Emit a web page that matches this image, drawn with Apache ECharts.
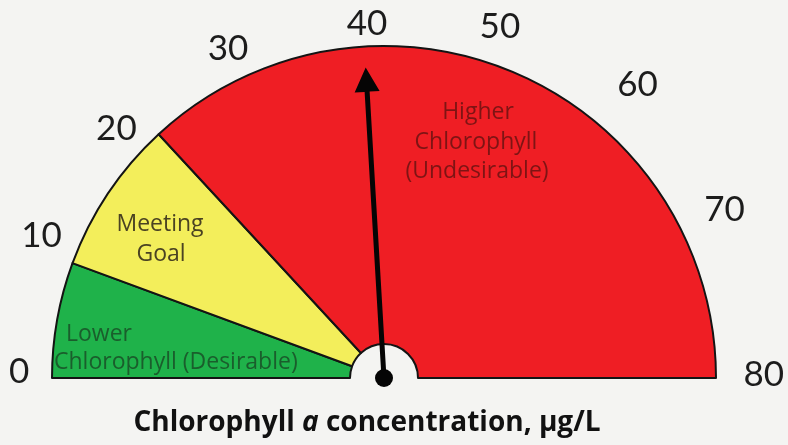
<!DOCTYPE html>
<html>
<head>
<meta charset="utf-8">
<script src="https://cdn.jsdelivr.net/npm/echarts@6/dist/echarts.min.js"></script>
<style>
  html, body { margin: 0; padding: 0; background: #f4f4f2; }
  #chart { width: 788px; height: 445px; }
</style>
</head>
<body>
<div id="chart"></div>
<script>
// bands on the dial (width of each band, in ug/L)
var bandNames = ['Lower Chlorophyll (Desirable)', 'Meeting Goal', 'Higher Chlorophyll (Undesirable)'];
var bandValues = [9, 12, 59];
var bandColors = ['#1fb24a', '#f3ee5b', '#ef1e24'];
// dial scale
var scaleMin = 0;
var scaleMax = 80;
var scaleSplits = 8;
// needle reading
var needleValue = 38.5;

var myChart = echarts.init(document.getElementById('chart'));

var cx = 384, cy = 378, R = 332;

// hand drawn dial: the tick labels sit a bit irregularly, nudge each one
// padding = [top, right, bottom, left]
var labelPad = {
  0: [0, 0, 12, 35],
  10: [30, 0, 0, 16],
  20: [82, 0, 0, 2],
  30: [32, 0, 0, 2],
  40: [38, 34, 0, 0],
  50: [10, 82, 0, 0],
  60: [0, 16, 6, 0],
  70: [0, 18, 22, 0],
  80: [0, 10, 6, 0]
};
var labelRich = {};
Object.keys(labelPad).forEach(function (k) {
  labelRich['t' + k] = { padding: labelPad[k], fontSize: 35, fontFamily: 'Lato', color: '#1c1c1c' };
});

// pie = coloured bands, the last slice is the empty lower half
var pieData = bandValues.map(function (v, i) {
  return { value: v, name: bandNames[i], itemStyle: { color: bandColors[i] } };
});
pieData.push({
  value: scaleMax - scaleMin, name: 'blank',
  itemStyle: { color: 'transparent', borderWidth: 0 }
});

var annFont = '23px "Open Sans"';

var option = {
  backgroundColor: '#f4f4f2',
  animation: false,
  series: [{
    type: 'pie',
    silent: true,
    z: 1,
    center: [cx, cy],
    radius: [34, R],
    startAngle: 180,
    clockwise: true,
    label: { show: false },
    labelLine: { show: false },
    itemStyle: { borderColor: '#141414', borderWidth: 2 },
    data: pieData
  }, {
    type: 'gauge',
    z: 5,
    center: [cx, cy],
    radius: R,
    startAngle: 180,
    endAngle: 0,
    min: scaleMin,
    max: scaleMax,
    splitNumber: scaleSplits,
    axisLine: { show: false },
    axisTick: { show: false },
    splitLine: { show: false, length: 0, distance: 0 },
    axisLabel: {
      distance: -78,
      fontSize: 35,
      fontFamily: 'Lato',
      color: '#1c1c1c',
      formatter: function (v) { return '{t' + v + '|' + v + '}'; },
      rich: labelRich
    },
    pointer: {
      icon: 'path://M50 0 L100 78 L60 78 L60 1000 L40 1000 L40 78 L0 78 Z',
      length: 311,
      width: 25,
      offsetCenter: [0, 0],
      keepAspect: false,
      itemStyle: { color: '#050505' }
    },
    anchor: {
      show: true,
      showAbove: true,
      size: 18,
      itemStyle: { color: '#050505' }
    },
    title: { show: false },
    detail: { show: false },
    data: [{ value: needleValue }]
  }],
  graphic: [
    { type: 'text', z: 100, x: 66, y: 334, style: { text: 'Lower', font: annFont, fill: '#1a5e2c', textVerticalAlign: 'middle' } },
    { type: 'text', z: 100, x: 54, y: 362, style: { text: 'Chlorophyll (Desirable)', font: annFont, fill: '#1a5e2c', textVerticalAlign: 'middle' } },
    { type: 'text', z: 100, x: 160, y: 224, style: { text: 'Meeting', font: annFont, fill: '#4a4222', textAlign: 'center', textVerticalAlign: 'middle' } },
    { type: 'text', z: 100, x: 161, y: 254, style: { text: 'Goal', font: annFont, fill: '#4a4222', textAlign: 'center', textVerticalAlign: 'middle' } },
    { type: 'text', z: 100, x: 478, y: 112, style: { text: 'Higher', font: annFont, fill: '#7e1414', textAlign: 'center', textVerticalAlign: 'middle' } },
    { type: 'text', z: 100, x: 476, y: 142, style: { text: 'Chlorophyll', font: annFont, fill: '#7e1414', textAlign: 'center', textVerticalAlign: 'middle' } },
    { type: 'text', z: 100, x: 477, y: 171, style: { text: '(Undesirable)', font: annFont, fill: '#7e1414', textAlign: 'center', textVerticalAlign: 'middle' } },
    {
      type: 'text', z: 100, x: 367, y: 423,
      style: {
        text: '{b|Chlorophyll }{i|a}{b| concentration, µg/L}',
        textAlign: 'center', textVerticalAlign: 'middle',
        rich: {
          b: { fontFamily: 'Open Sans', fontWeight: 'bold', fontSize: 28, fill: '#111' },
          i: { fontFamily: 'Open Sans', fontWeight: 'bold', fontStyle: 'italic', fontSize: 28, fill: '#111' }
        }
      }
    }
  ]
};
myChart.setOption(option);
</script>
</body>
</html>
